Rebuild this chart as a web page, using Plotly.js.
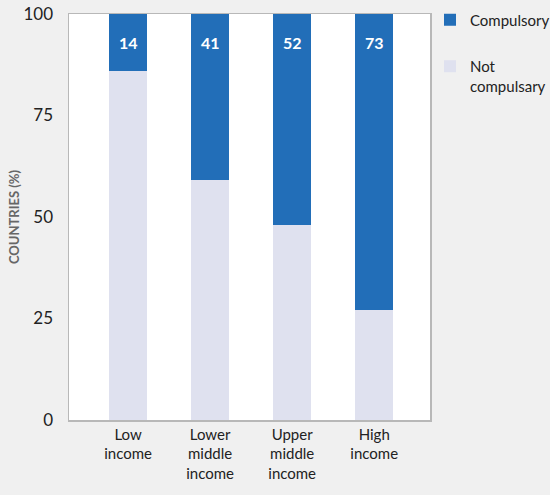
<!DOCTYPE html>
<html>
<head>
<meta charset="utf-8">
<script src="https://cdn.plot.ly/plotly-3.0.1.min.js"></script>
<style>html,body{margin:0;padding:0;background:#f0f0f0;}</style>
</head>
<body>
<div id="chart" style="width:550px;height:495px;"></div>
<script>
var categories = ["Low<br>income", "Lower<br>middle<br>income", "Upper<br>middle<br>income", "High<br>income"];
var compulsory = [14, 41, 52, 73];
var notCompulsory = [86, 59, 48, 27];
var yTicks = [0, 25, 50, 75, 100];

var font = "Lato, Noto Sans, sans-serif";

var traces = [
  {
    type: "bar", name: "Not<br>compulsary", x: categories, y: notCompulsory,
    marker: {color: "#dfe1ef"}, hoverinfo: "none", legendgroup: "b", legendrank: 2
  },
  {
    type: "bar", name: "Compulsory", x: categories, y: compulsory,
    marker: {color: "#226eb8"}, hoverinfo: "none", legendgroup: "a", legendrank: 1
  }
];

var annotations = categories.map(function (c, i) {
  return {
    x: c, y: 93, xref: "x", yref: "y", text: String(compulsory[i]),
    showarrow: false, font: {family: font, size: 16, color: "#ffffff", weight: "bold"},
    yanchor: "middle"
  };
});

var layout = {
  width: 550, height: 495,
  paper_bgcolor: "#f0f0f0", plot_bgcolor: "#ffffff",
  margin: {l: 69, r: 120, t: 14, b: 75, autoexpand: false},
  barmode: "stack", bargap: 0.54,
  font: {family: font, size: 15, color: "#222222"},
  showlegend: true,
  legend: {
    x: 1.0, xanchor: "left", y: 1.026, yanchor: "top",
    traceorder: "grouped", valign: "top",
    font: {family: font, size: 15, color: "#222222"},
    itemwidth: 30, tracegroupgap: 24, bgcolor: "rgba(0,0,0,0)"
  },
  xaxis: {
    range: [-0.72, 3.68], showline: true, mirror: true, linecolor: "#b8b8b8", linewidth: 1.5,
    ticks: "", tickfont: {family: font, size: 15, color: "#222222"}, fixedrange: true
  },
  yaxis: {
    range: [0, 100], tickvals: yTicks, showline: true, mirror: true, linecolor: "#b8b8b8", linewidth: 1.5,
    showgrid: false, zeroline: false, ticks: "", ticklabelstandoff: 11,
    tickfont: {family: font, size: 17, color: "#222222"},
    title: {text: "COUNTRIES (%)", font: {family: font, size: 13, color: "#666666", weight: "bold"}, standoff: 1},
    fixedrange: true
  },
  annotations: annotations
};

Plotly.newPlot("chart", traces, layout, {displayModeBar: false, staticPlot: true});
</script>
</body>
</html>
